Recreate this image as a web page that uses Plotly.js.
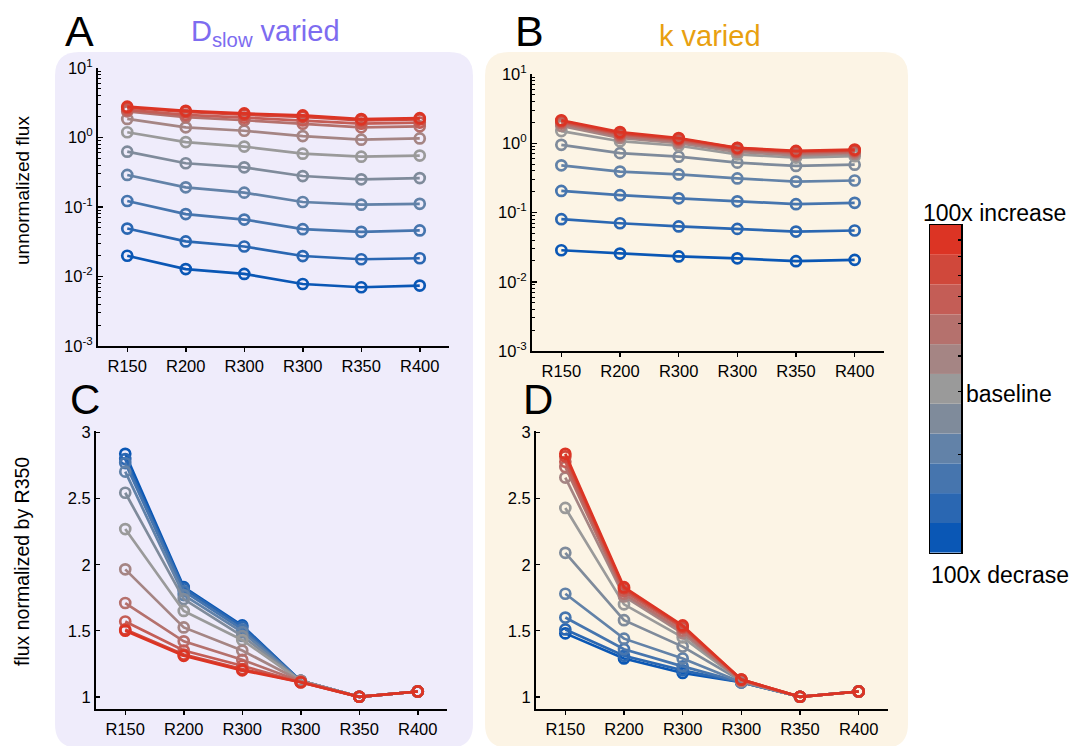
<!DOCTYPE html>
<html><head><meta charset="utf-8">
<script src="https://cdn.plot.ly/plotly-3.0.1.min.js"></script>
<style>html,body{margin:0;padding:0;background:#fff}#chart{width:1072px;height:746px}</style>
</head><body><div id="chart"></div>
<script>
// ---------- data ----------
const tickLabels = ["R150", "R200", "R300", "R300", "R350", "R400"];
// 11 levels: index 0 = 100x increase ... 5 = baseline ... 10 = 100x decrease
const levelColors = ["#dc3424", "#d0483b", "#c45d56", "#b5716d", "#a58584", "#9a9a9a",
                     "#7f8b9b", "#6282a8", "#4675ae", "#2a67b2", "#0a57b5"];

// Panel A: D_slow varied, unnormalized flux
const fluxA = [
  [2.78, 2.42, 2.22, 2.08, 1.84, 1.90],
  [2.68, 2.33, 2.13, 1.98, 1.76, 1.82],
  [2.50, 2.12, 1.93, 1.76, 1.58, 1.64],
  [2.38, 1.97, 1.77, 1.58, 1.40, 1.45],
  [1.85, 1.40, 1.25, 1.05, 0.93, 0.97],
  [1.19, 0.86, 0.74, 0.585, 0.53, 0.55],
  [0.625, 0.426, 0.372, 0.279, 0.250, 0.261],
  [0.289, 0.192, 0.161, 0.118, 0.108, 0.111],
  [0.122, 0.079, 0.066, 0.048, 0.044, 0.046],
  [0.049, 0.032, 0.027, 0.0197, 0.0177, 0.0183],
  [0.0199, 0.0128, 0.0109, 0.0078, 0.0070, 0.0074]
];
// Panel B: k varied, unnormalized flux
const fluxB = [
  [2.15, 1.45, 1.19, 0.86, 0.775, 0.81],
  [2.10, 1.39, 1.16, 0.85, 0.76, 0.79],
  [2.02, 1.34, 1.12, 0.83, 0.74, 0.77],
  [1.92, 1.27, 1.06, 0.80, 0.71, 0.74],
  [1.78, 1.19, 1.00, 0.75, 0.67, 0.70],
  [1.50, 1.07, 0.92, 0.69, 0.62, 0.65],
  [0.95, 0.72, 0.64, 0.525, 0.47, 0.49],
  [0.48, 0.39, 0.355, 0.31, 0.28, 0.29],
  [0.205, 0.178, 0.16, 0.145, 0.132, 0.138],
  [0.080, 0.070, 0.063, 0.058, 0.053, 0.055],
  [0.0285, 0.0255, 0.0232, 0.0218, 0.0198, 0.0207]
];
// Panel C: D_slow varied, normalized by R350
const normC = [
  [1.50, 1.31, 1.20, 1.11, 1.00, 1.04],
  [1.51, 1.32, 1.21, 1.11, 1.00, 1.04],
  [1.57, 1.35, 1.235, 1.11, 1.00, 1.04],
  [1.71, 1.42, 1.28, 1.115, 1.00, 1.04],
  [1.965, 1.525, 1.35, 1.12, 1.00, 1.04],
  [2.27, 1.65, 1.43, 1.12, 1.00, 1.04],
  [2.545, 1.74, 1.46, 1.12, 1.00, 1.04],
  [2.705, 1.77, 1.49, 1.12, 1.00, 1.04],
  [2.77, 1.80, 1.51, 1.12, 1.00, 1.04],
  [2.80, 1.82, 1.53, 1.12, 1.00, 1.04],
  [2.84, 1.83, 1.54, 1.12, 1.00, 1.04]
];
// Panel D: k varied, normalized by R350
const normD = [
  [2.84, 1.83, 1.54, 1.13, 1.00, 1.04],
  [2.82, 1.82, 1.53, 1.13, 1.00, 1.04],
  [2.78, 1.80, 1.52, 1.13, 1.00, 1.04],
  [2.74, 1.78, 1.50, 1.12, 1.00, 1.04],
  [2.66, 1.76, 1.48, 1.12, 1.00, 1.04],
  [2.43, 1.70, 1.45, 1.12, 1.00, 1.04],
  [2.09, 1.58, 1.38, 1.12, 1.00, 1.04],
  [1.78, 1.44, 1.29, 1.11, 1.00, 1.04],
  [1.60, 1.36, 1.23, 1.11, 1.00, 1.04],
  [1.51, 1.31, 1.20, 1.11, 1.00, 1.04],
  [1.48, 1.29, 1.18, 1.11, 1.00, 1.04]
];
const logTickVals = [0.001, 0.01, 0.1, 1, 10];
const logTickText = ["10<sup>-3</sup>", "10<sup>-2</sup>", "10<sup>-1</sup>", "10<sup>0</sup>", "10<sup>1</sup>"];
const linTickVals = [1, 1.5, 2, 2.5, 3];
const linTickText = ["1", "1.5", "2", "2.5", "3"];
const colorbarLevels = [1, 1, 1, 1, 1, 1, 1, 1, 1, 1, 1];

// ---------- drawing ----------
const W = 1072, H = 746;
const FONT = "Liberation Sans, Arial, Helvetica, sans-serif";
const xIdx = tickLabels.map((_, i) => i);
const fx = v => v / W, fy = v => 1 - v / H;

const traces = [];
function addPanel(data, xa, ya) {
  for (let i = data.length - 1; i >= 0; i--) {
    traces.push({
      type: "scatter", mode: "lines+markers", x: xIdx, y: data[i],
      xaxis: xa, yaxis: ya, showlegend: false, hoverinfo: "skip",
      line: {color: levelColors[i], width: 2.7},
      marker: {symbol: "circle-open", size: 10, color: levelColors[i], line: {width: 2.7, color: levelColors[i]}}
    });
  }
}
addPanel(fluxA, "x", "y");
addPanel(fluxB, "x2", "y2");
addPanel(normC, "x3", "y3");
addPanel(normD, "x4", "y4");

// discrete colour bar as stacked cells
const cbBase = [];
let acc = 0;
for (let i = colorbarLevels.length - 1; i >= 0; i--) { cbBase.push(acc); acc += colorbarLevels[i]; }
traces.push({
  type: "bar", x: colorbarLevels.map(() => 0), y: colorbarLevels.slice().reverse(), base: cbBase,
  width: 1, marker: {color: levelColors.slice().reverse(), line: {width: 0}},
  xaxis: "x5", yaxis: "y5", showlegend: false, hoverinfo: "skip"
});

const minorLog = [];
for (let k = -3; k < 1; k++) for (let d = 2; d <= 9; d++) minorLog.push(d * Math.pow(10, k));

const TICKFONT = {family: FONT, size: 16.5, color: "#000"};
function xAxis(x0, x1, anchor) {
  return {domain: [fx(x0), fx(x1)], anchor: anchor, range: [-0.5, 5.5],
    tickmode: "array", tickvals: xIdx, ticktext: tickLabels,
    ticks: "outside", ticklen: 4, tickwidth: 1.5, tickcolor: "#000",
    showline: true, linecolor: "#000", linewidth: 2, showgrid: false, zeroline: false,
    tickfont: TICKFONT, fixedrange: true};
}
function logAxis(y0, y1, anchor) {
  return {domain: [fy(y1), fy(y0)], anchor: anchor, type: "log", range: [-3, 1],
    tickmode: "array", tickvals: logTickVals, ticktext: logTickText,
    ticks: "inside", ticklen: 5, tickwidth: 1.5, tickcolor: "#000",
    minor: {tickmode: "array", tickvals: minorLog, ticks: "inside", ticklen: 3, tickwidth: 1, tickcolor: "#000", showgrid: false},
    showline: true, linecolor: "#000", linewidth: 2, showgrid: false, zeroline: false,
    tickfont: TICKFONT, fixedrange: true};
}
function linAxis(y0, y1, anchor) {
  return {domain: [fy(y1), fy(y0)], anchor: anchor, range: [0.905, 3.015],
    tickmode: "array", tickvals: linTickVals, ticktext: linTickText,
    ticks: "inside", ticklen: 4, tickwidth: 1.5, tickcolor: "#000",
    showline: true, linecolor: "#000", linewidth: 2, showgrid: false, zeroline: false,
    tickfont: TICKFONT, fixedrange: true};
}

function rr(x0, y0, x1, y1, r) {
  const X = v => fx(v).toFixed(5), Y = v => fy(v).toFixed(5);
  return `M ${X(x0 + r)},${Y(y0)} L ${X(x1 - r)},${Y(y0)} Q ${X(x1)},${Y(y0)} ${X(x1)},${Y(y0 + r)} ` +
    `L ${X(x1)},${Y(y1 - r)} Q ${X(x1)},${Y(y1)} ${X(x1 - r)},${Y(y1)} L ${X(x0 + r)},${Y(y1)} ` +
    `Q ${X(x0)},${Y(y1)} ${X(x0)},${Y(y1 - r)} L ${X(x0)},${Y(y0 + r)} Q ${X(x0)},${Y(y0)} ${X(x0 + r)},${Y(y0)} Z`;
}

function ann(text, x, y, size, opts) {
  return Object.assign({text: text, x: fx(x), y: fy(y), xref: "paper", yref: "paper",
    showarrow: false, font: {family: FONT, size: size, color: "#000"}, xanchor: "center", yanchor: "middle"}, opts || {});
}

const layout = {
  width: W, height: H, autosize: false,
  margin: {l: 0, r: 0, t: 0, b: 0},
  paper_bgcolor: "#ffffff", plot_bgcolor: "rgba(0,0,0,0)",
  showlegend: false, barmode: "overlay",
  xaxis: xAxis(98, 449, "y"), yaxis: logAxis(68, 346, "x"),
  xaxis2: xAxis(532, 884, "y2"), yaxis2: logAxis(74, 351, "x2"),
  xaxis3: xAxis(96, 447, "y3"), yaxis3: linAxis(430.7, 709.3, "x3"),
  xaxis4: xAxis(536, 888, "y4"), yaxis4: linAxis(430.7, 709.3, "x4"),
  xaxis5: {domain: [fx(930), fx(961)], anchor: "y5", range: [-0.5, 0.5], showticklabels: false, ticks: "",
    showline: true, mirror: true, linecolor: "#000", linewidth: 1.5, showgrid: false, zeroline: false, fixedrange: true},
  yaxis5: {domain: [fy(552.7), fy(225)], anchor: "x5", range: [0, 11], side: "right",
    tickmode: "array", tickvals: [10.5, 9.95, 9.3, 8.6, 7.7, 6.6, 5.4, 3.3], ticks: "inside", ticklen: 3, tickwidth: 1.2, tickcolor: "#000",
    showticklabels: false, showline: true, mirror: true, linecolor: "#000", linewidth: 1.5, showgrid: false, zeroline: false, fixedrange: true},
  shapes: [
    {type: "path", xref: "paper", yref: "paper", path: rr(55, 52, 473, 748, 24), fillcolor: "#efecfb", line: {width: 0}, layer: "below"},
    {type: "path", xref: "paper", yref: "paper", path: rr(485, 52, 908, 748, 24), fillcolor: "#fcf4e5", line: {width: 0}, layer: "below"}
  ],
  annotations: [
    ann("A", 79, 31, 43),
    ann("B", 529, 31, 43),
    ann("C", 85, 399, 42),
    ann("D", 538, 399, 42),
    ann("D<sub>slow</sub> varied", 265, 33, 29, {font: {family: FONT, size: 29, color: "#7d6cf0"}}),
    ann("k varied", 710, 36, 29, {font: {family: FONT, size: 29, color: "#e8a010"}}),
    ann("unnormalized flux", 22, 191, 19, {textangle: -90}),
    ann("flux normalized by R350", 22, 562, 19.5, {textangle: -90}),
    ann("100x increase", 994, 213, 23),
    ann("baseline", 964, 394, 23, {xanchor: "left"}),
    ann("100x decrase", 1000, 575, 23)
  ]
};

Plotly.newPlot("chart", traces, layout, {staticPlot: true, displayModeBar: false});
</script>
</body></html>
